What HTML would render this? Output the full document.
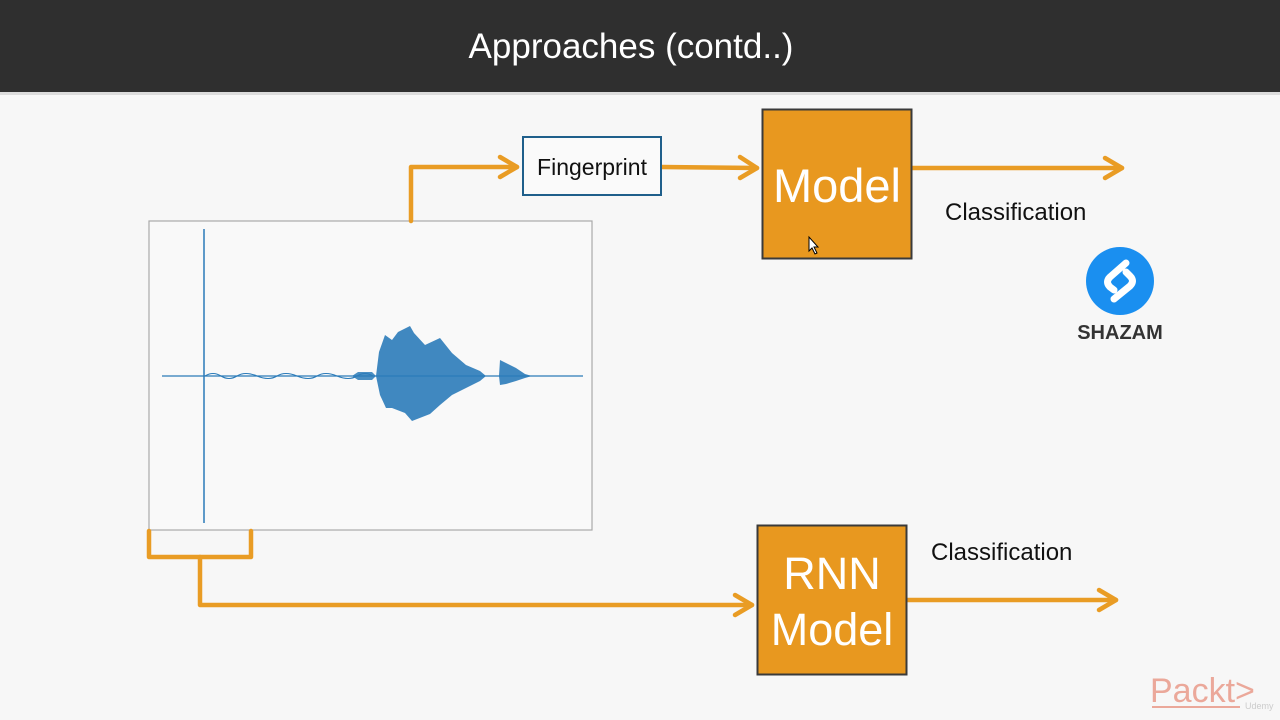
<!DOCTYPE html>
<html><head><meta charset="utf-8"><style>
html,body{margin:0;padding:0;width:1280px;height:720px;overflow:hidden;background:#f7f7f7;}
svg{display:block}
text{font-family:"Liberation Sans",Arial,sans-serif;}
</style></head><body>
<svg width="1280" height="720" viewBox="0 0 1280 720" xmlns="http://www.w3.org/2000/svg">
<rect x="0" y="0" width="1280" height="720" fill="#f7f7f7"/>
<rect x="0" y="0" width="1280" height="92" fill="#2f2f2f"/>
<rect x="0" y="92" width="1280" height="3" fill="#dcdcdc"/>
<text x="631" y="58" font-size="35" fill="#ffffff" text-anchor="middle">Approaches (contd..)</text>

<rect x="149" y="221" width="443" height="309" fill="#f9f9f9" stroke="#aaaaaa" stroke-width="1.2"/>
<line x1="204" y1="229" x2="204" y2="523" stroke="#2b7bb9" stroke-width="1.5"/>
<line x1="162" y1="376" x2="583" y2="376" stroke="#2b7bb9" stroke-width="1.3"/>
<path d="M205,376 q8,-5 16,0 t16,0 t20,0 t20,0 t20,0 t20,0 t20,0 t20,0 t16,0" fill="none" stroke="#2b7bb9" stroke-width="1.1"/>
<polygon points="352,376 358,372 372,372 376,376 372,380 358,380" fill="#2b7bb9" opacity="0.85"/>
<polygon points="376,376 379,352 385,335 392,340 398,332 410,326 414,333 425,345 440,338 452,353 466,365 480,371 486,376 480,381 466,388 452,395 440,405 430,414 412,421 405,413 392,408 386,408 380,395" fill="#2b7bb9" opacity="0.9"/>
<polygon points="499,376 500,360 506,363 516,368 525,374 532,376 525,378 516,381 506,384 500,385" fill="#2b7bb9" opacity="0.9"/>

<g stroke="#e99c24" stroke-width="4.5" fill="none" stroke-linecap="round" stroke-linejoin="round">
<polyline points="411,221 411,167 517,167"/>
<polyline points="500,157 517,167 500,177"/>
<line x1="662" y1="167" x2="757" y2="168"/>
<polyline points="740,157 757,168 740,178"/>
<line x1="912" y1="168" x2="1122" y2="168"/>
<polyline points="1105,158 1122,168 1105,178"/>
<polyline points="149,531 149,557 251,557 251,531"/>
<polyline points="200,557 200,605 752,605"/>
<polyline points="735,595 752,605 735,615"/>
<line x1="907" y1="600" x2="1116" y2="600"/>
<polyline points="1099,590 1116,600 1099,610"/>
</g>

<rect x="523" y="137" width="138" height="58" fill="#fafafa" stroke="#1f5f8b" stroke-width="2"/>
<text x="592" y="175" font-size="23" fill="#111" text-anchor="middle">Fingerprint</text>

<rect x="762.5" y="109.5" width="149" height="149" fill="#e8981f" stroke="#3a3a3a" stroke-width="2"/>
<text x="837" y="202" font-size="47" fill="#ffffff" text-anchor="middle">Model</text>

<rect x="757.5" y="525.5" width="149" height="149" fill="#e8981f" stroke="#3a3a3a" stroke-width="2"/>
<text x="832" y="589" font-size="45" fill="#ffffff" text-anchor="middle">RNN</text>
<text x="832" y="645" font-size="45" fill="#ffffff" text-anchor="middle">Model</text>

<text x="945" y="220" font-size="24" fill="#111">Classification</text>
<text x="931" y="560" font-size="24" fill="#111">Classification</text>

<path d="M809,237 L809,251 L812,248 L815,254 L817,253 L814,247 L818,247 Z" fill="#fff" stroke="#000" stroke-width="1"/>

<circle cx="1120" cy="281" r="34" fill="#1a8ff0"/>
<path d="M1126,263 L1110,277 Q1105,282 1110,287 L1114,290 M1126,272 L1130,276 Q1135,281 1130,286 L1114,299" fill="none" stroke="#fff" stroke-width="7" stroke-linecap="round"/>
<text x="1120" y="339" font-size="20" font-weight="bold" fill="#333" text-anchor="middle">SHAZAM</text>

<text x="1150" y="702" font-size="34" fill="#eba89a">Packt&gt;</text>
<line x1="1152" y1="707" x2="1240" y2="707" stroke="#eba89a" stroke-width="2"/>
<text x="1245" y="709" font-size="9" fill="#ccc">Udemy</text>
</svg>
</body></html>
